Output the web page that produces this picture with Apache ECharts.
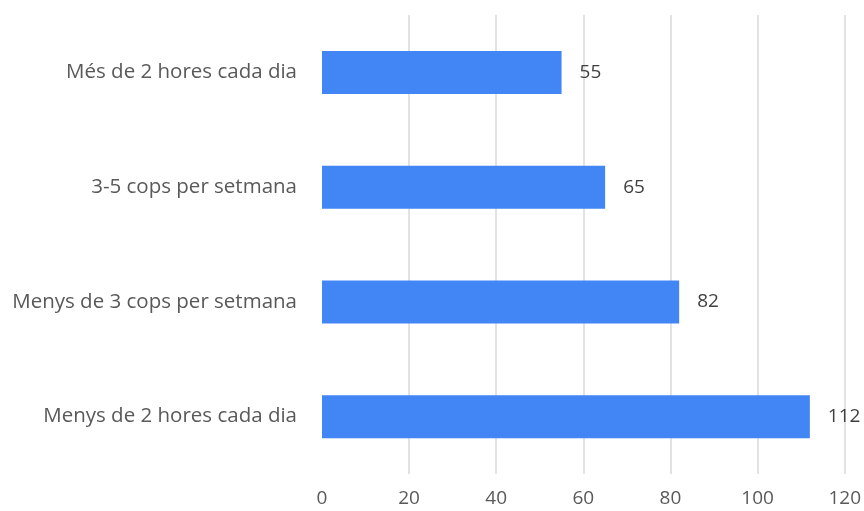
<!DOCTYPE html>
<html>
<head>
<meta charset="utf-8">
<script src="https://cdn.jsdelivr.net/npm/echarts@6/dist/echarts.min.js"></script>
<style>html,body{margin:0;padding:0;background:#fff}#c{width:864px;height:511px}</style>
</head>
<body>
<div id="c"></div>
<script>
const categories = ["Menys de 2 hores cada dia", "Menys de 3 cops per setmana", "3-5 cops per setmana", "Més de 2 hores cada dia"];
const values = [112, 82, 65, 55];
const xTicks = [0, 20, 40, 60, 80, 100, 120];

const chart = echarts.init(document.getElementById('c'), null, {renderer: 'canvas'});
const font = '"Open Sans", sans-serif';
chart.setOption({
  animation: false,
  grid: {left: 322, right: 19, top: 15, bottom: 37, containLabel: false},
  xAxis: {
    type: 'value', min: xTicks[0], max: xTicks[xTicks.length - 1], interval: 20,
    axisLine: {show: false}, axisTick: {show: false},
    axisLabel: {color: '#595959', fontSize: 19, fontFamily: font, margin: 15},
    splitLine: {show: true, showMinLine: false, lineStyle: {color: '#d9d9d9', width: 1.5}}
  },
  yAxis: {
    type: 'category', data: categories,
    axisLine: {show: false}, axisTick: {show: false},
    axisLabel: {color: '#595959', fontSize: 20.5, fontFamily: font, margin: 25}
  },
  series: [{
    type: 'bar', data: values, barWidth: 43,
    itemStyle: {color: '#4285f4'},
    label: {show: true, position: 'right', distance: 18, color: '#404040', fontSize: 19, fontFamily: font}
  }]
});
</script>
</body>
</html>
